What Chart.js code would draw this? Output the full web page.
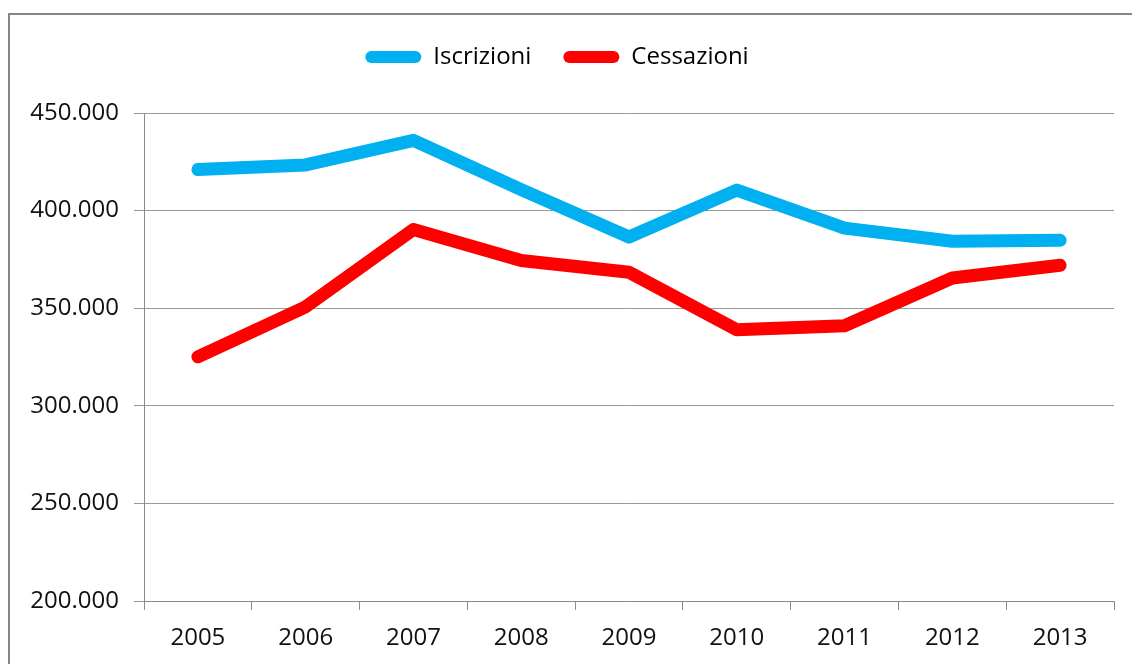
<!DOCTYPE html>
<html>
<head>
  <meta charset="utf-8">
  <title>Iscrizioni e Cessazioni</title>
  <script src="https://cdn.jsdelivr.net/npm/chart.js"></script>
  <style>
    html, body {
      margin: 0;
      padding: 0;
      background: #ffffff;
      overflow: hidden;
      width: 1132px;
      height: 664px;
    }
    .frame {
      position: absolute;
      left: 8px;
      top: 13px;
      width: 1200px;
      height: 700px;
      border: 2px solid #868686;
    }
    .chart-wrapper {
      position: absolute;
      left: 0;
      top: 0;
      width: 1132px;
      height: 664px;
    }
  </style>
</head>
<body>
  <div class="frame"></div>
  <div class="chart-wrapper">
    <canvas id="lineChart"></canvas>
  </div>

  <script>
    const years = ['2005', '2006', '2007', '2008', '2009', '2010', '2011', '2012', '2013'];
    const iscrizioni = [421000, 423400, 436000, 410700, 386500, 410500, 391000, 384300, 384800];
    const cessazioni = [325100, 350700, 390300, 374400, 368400, 339000, 341000, 365500, 372000];

    const yMin = 200000;
    const yMax = 450000;
    const yStep = 50000;

    // italian style thousands: 450.000
    const fmt = v => String(v).replace(/\B(?=(\d{3})+(?!\d))/g, '.');

    const legendSpace = {
      id: 'legendSpace',
      beforeInit(chart) {
        const fit = chart.legend.fit;
        chart.legend.fit = function () {
          fit.call(this);
          this.height = 100;
        };
      }
    };

    Chart.defaults.font.family = "'Open Sans', sans-serif";
    Chart.defaults.color = '#111111';

    new Chart(document.getElementById('lineChart').getContext('2d'), {
      type: 'line',
      data: {
        labels: years,
        datasets: [
          {
            label: 'Iscrizioni',
            data: iscrizioni,
            borderColor: '#00b0f0',
            backgroundColor: '#00b0f0',
            borderWidth: 13,
            borderCapStyle: 'round',
            borderJoinStyle: 'round',
            pointRadius: 0,
            tension: 0
          },
          {
            label: 'Cessazioni',
            data: cessazioni,
            borderColor: '#ff0000',
            backgroundColor: '#ff0000',
            borderWidth: 13,
            borderCapStyle: 'round',
            borderJoinStyle: 'round',
            pointRadius: 0,
            tension: 0
          }
        ]
      },
      options: {
        responsive: true,
        maintainAspectRatio: false,
        animation: false,
        layout: { padding: { top: 13, right: 18, bottom: 0, left: 0 } },
        plugins: {
          legend: {
            position: 'top',
            labels: {
              font: { size: 24 },
              boxWidth: 56,
              boxHeight: 12,
              useBorderRadius: true,
              borderRadius: 6,
              padding: 32,
              generateLabels(chart) {
                return chart.data.datasets.map((ds, i) => ({
                  text: ds.label,
                  fillStyle: ds.borderColor,
                  strokeStyle: ds.borderColor,
                  lineWidth: 0,
                  datasetIndex: i,
                  borderRadius: 6
                }));
              }
            }
          },
          tooltip: { enabled: false }
        },
        scales: {
          x: {
            offset: true,
            afterFit(scale) { scale.height = 63; },
            grid: {
              offset: true,
              drawOnChartArea: false,
              color: '#8c8c8c',
              tickLength: 9
            },
            border: { color: '#8c8c8c' },
            ticks: {
              font: { size: 24 },
              padding: 14,
              maxRotation: 0
            }
          },
          y: {
            min: yMin,
            max: yMax,
            afterFit(scale) { scale.width = 144; },
            grid: {
              color: '#9a9a9a',
              tickLength: 10
            },
            border: { color: '#8c8c8c' },
            ticks: {
              stepSize: yStep,
              font: { size: 24 },
              padding: 15,
              callback: v => fmt(v)
            }
          }
        }
      },
      plugins: [legendSpace]
    });
  </script>
</body>
</html>
